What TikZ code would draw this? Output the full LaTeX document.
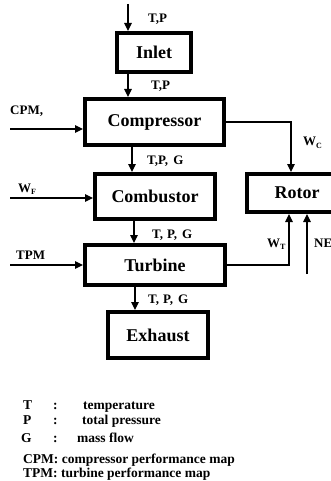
\documentclass[tikz,border=0pt]{standalone}
\usepackage{fontspec}
\setmainfont{Liberation Serif}
\usetikzlibrary{arrows.meta}
\begin{document}
\begin{tikzpicture}[x=1pt,y=-1pt,
  blk/.style={draw,line width=4pt,inner sep=0pt,font=\fontsize{18}{20}\selectfont\bfseries},
  arr/.style={line width=1.1pt,-{Triangle[length=8pt,width=7.5pt]}},
  lnk/.style={line width=1.1pt},
  lbl/.style={anchor=base west,inner sep=0pt,font=\fontsize{13}{15}\selectfont\bfseries},
  leg/.style={anchor=base west,inner sep=0pt,font=\fontsize{13.5}{15}\selectfont\bfseries}]
\clip (0,0) rectangle (331,481);
\fill[white] (0,0) rectangle (331,481);
% boxes
\node[blk,minimum width=74pt,minimum height=39pt] (inlet) at (154,52.5) {Inlet};
\node[blk,minimum width=139pt,minimum height=46pt] (comp) at (154.5,122) {Compressor};
\node[blk,minimum width=120pt,minimum height=45pt] (comb) at (155,196.5) {Combustor};
\node[blk,minimum width=100pt,minimum height=38pt] (rotor) at (297,193) {Rotor\hspace{14pt}};
\node[blk,minimum width=140pt,minimum height=40pt] (turb) at (155,265) {Turbine};
\node[blk,minimum width=100pt,minimum height=46pt] (exh) at (158,335) {Exhaust};
% free ends
\coordinate (top0) at (128,4);
\coordinate (cpm0) at (10,129);
\coordinate (wf0) at (10,198);
\coordinate (tpm0) at (10,265);
\coordinate (ne0) at (307,274);
% vertical flow arrows
\draw[arr] (top0) -- (top0 |- inlet.north);
\draw[arr] ([xshift=-26pt]inlet.south) -- ([xshift=-26pt]inlet.south |- comp.north);
\draw[arr] ([xshift=-22.5pt]comp.south) -- ([xshift=-22.5pt]comp.south |- comb.north);
\draw[arr] ([xshift=-21pt]comb.south) -- ([xshift=-21pt]comb.south |- turb.north);
\draw[arr] ([xshift=-20pt]turb.south) -- ([xshift=-20pt]turb.south |- exh.north);
% inputs
\draw[arr] (cpm0) -- (cpm0 -| comp.west);
\draw[arr] (wf0) -- (wf0 -| comb.west);
\draw[arr] (tpm0) -- (tpm0 -| turb.west);
% rotor links
\draw[arr] (comp.east) -| ([xshift=-6pt]rotor.north);
\draw[arr] (turb.east) -| ([xshift=-8pt]rotor.south);
\draw[arr] (ne0) -- (ne0 |- rotor.south);
% labels
\node[lbl] (l1) at (148,22.5) {T,P};
\node[lbl] (l2) at (151,90) {T,P};
\node[lbl] (l3) at (147,164.5) {T,P,\hspace{0.4em}G};
\node[lbl] (l4) at (152,238) {T,\hspace{0.3em}P,\hspace{0.4em}G};
\node[lbl] (l5) at (148,303) {T,\hspace{0.3em}P,\hspace{0.4em}G};
\node[lbl] (lcpm) at (10,115) {CPM,};
\node[lbl] (lwf) at (18,192) {W\raisebox{-0.35ex}{\fontsize{8}{9}\selectfont F}};
\node[lbl] (ltpm) at (16,259) {TPM};
\node[lbl] (lwc) at (303,146) {W\raisebox{-0.35ex}{\fontsize{8}{9}\selectfont C}};
\node[lbl] (lwt) at (267,247) {W\raisebox{-0.35ex}{\fontsize{8}{9}\selectfont T}};
\node[lbl] (lne) at (314,247) {NE};
% legend
\node[leg] (g1a) at (23,409) {T};
\node[leg] (g1b) at (53,409) {:};
\node[leg] (g1c) at (83,409) {temperature};
\node[leg] (g2a) at (23,424) {P};
\node[leg] (g2b) at (53,424) {:};
\node[leg] (g2c) at (82,424) {total pressure};
\node[leg] (g3a) at (21,442) {G};
\node[leg] (g3b) at (53,442) {:};
\node[leg] (g3c) at (77,442) {mass flow};
\node[leg] (g4) at (23,463) {CPM: compressor performance map};
\node[leg] (g5) at (23,477) {TPM: turbine performance map};
\end{tikzpicture}
\end{document}
